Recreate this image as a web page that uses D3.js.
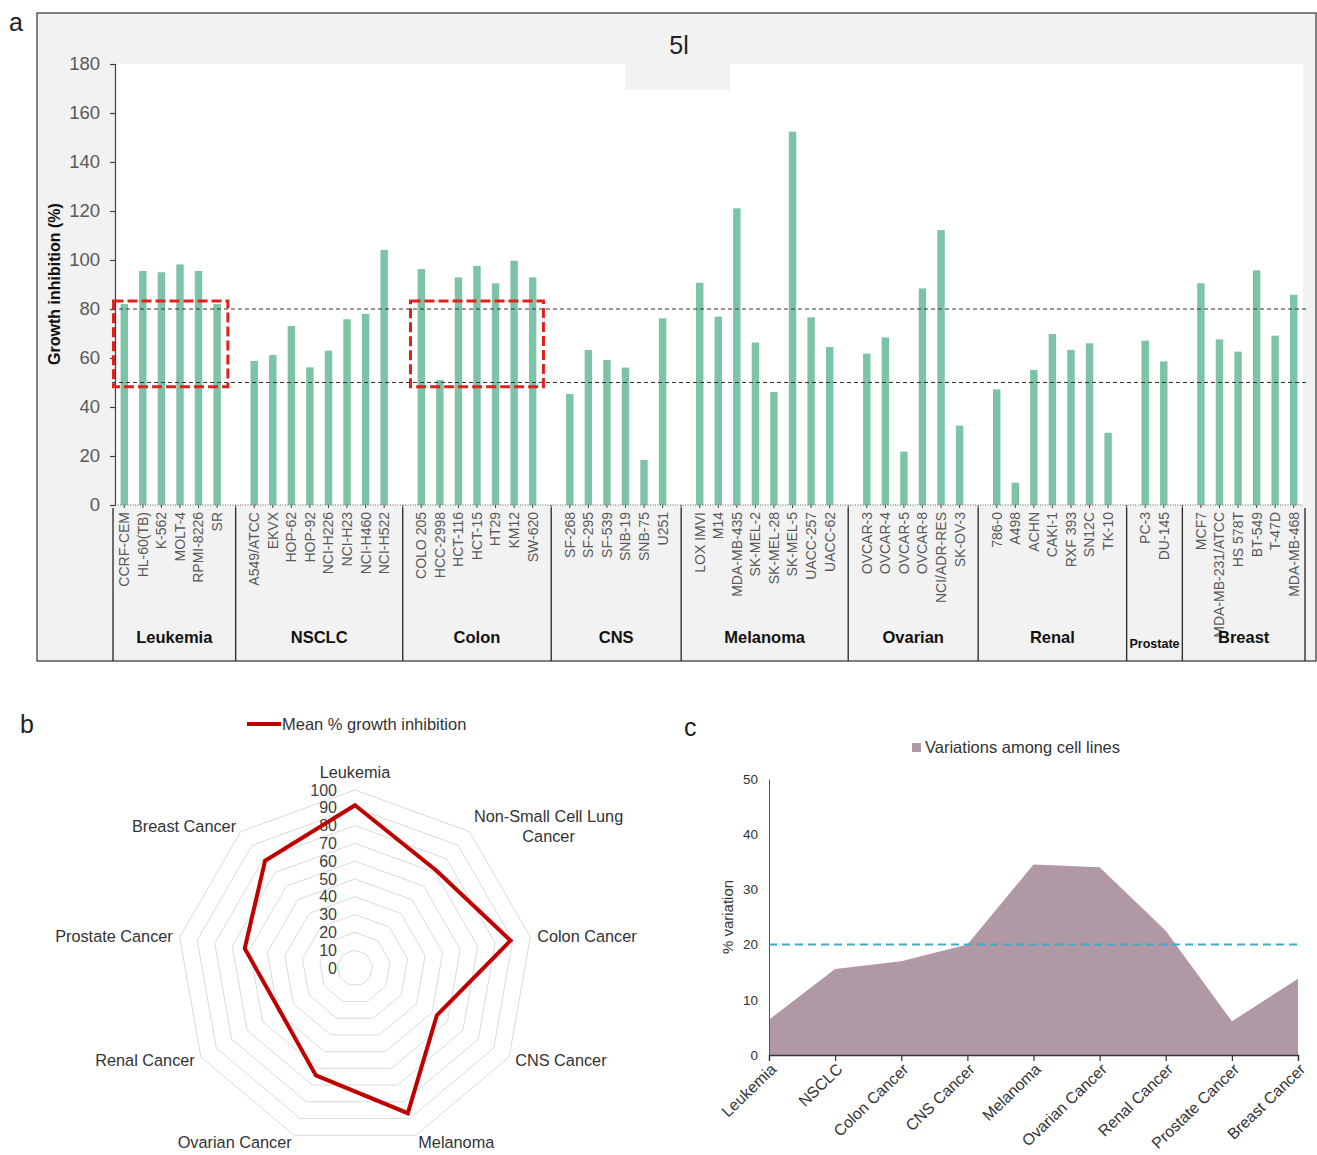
<!DOCTYPE html>
<html><head><meta charset="utf-8">
<script src="https://cdn.jsdelivr.net/npm/d3@7"></script>
<style>
body{margin:0;background:#fff;}
svg{display:block;font-family:"Liberation Sans",Arial,sans-serif;}
</style>
</head><body>
<svg id="chart" width="1317" height="1155"></svg>
<script>
// ---------------- DATA ----------------
const groupNames = ["Leukemia","NSCLC","Colon","CNS","Melanoma","Ovarian","Renal","Prostate","Breast"];
const groupSizes = [6,8,7,6,8,6,7,2,6];
const cellLines = ["CCRF-CEM","HL-60(TB)","K-562","MOLT-4","RPMI-8226","SR",
  "A549/ATCC","EKVX","HOP-62","HOP-92","NCI-H226","NCI-H23","NCI-H460","NCI-H522",
  "COLO 205","HCC-2998","HCT-116","HCT-15","HT29","KM12","SW-620",
  "SF-268","SF-295","SF-539","SNB-19","SNB-75","U251",
  "LOX IMVI","M14","MDA-MB-435","SK-MEL-2","SK-MEL-28","SK-MEL-5","UACC-257","UACC-62",
  "OVCAR-3","OVCAR-4","OVCAR-5","OVCAR-8","NCI/ADR-RES","SK-OV-3",
  "786-0","A498","ACHN","CAKI-1","RXF 393","SN12C","TK-10",
  "PC-3","DU-145",
  "MCF7","MDA-MB-231/ATCC","HS 578T","BT-549","T-47D","MDA-MB-468"];
const inhibition = [82,95.5,95,98.2,95.5,82,
  58.8,61.2,73.1,56.2,63,75.8,78,104.1,
  96.3,51,92.9,97.6,90.5,99.7,92.9,
  45.3,63.3,59.2,56.1,18.4,76.2,
  90.7,76.9,121.1,66.3,46.1,152.4,76.6,64.5,
  61.8,68.4,21.8,88.4,112.2,32.4,
  47.2,9.1,55.1,69.8,63.3,66,29.5,
  67.1,58.6,
  90.5,67.6,62.6,95.8,69.1,85.8];
const yTicksA = [0,20,40,60,80,100,120,140,160,180];
const refLines = [80,50];
const highlightGroups = ["Leukemia","Colon"];
const highlightRange = [48.3,83.3];
const chartTitle = "5l";

const radarCategories = ["Leukemia","Non-Small Cell Lung\nCancer","Colon Cancer","CNS Cancer","Melanoma","Ovarian Cancer","Renal Cancer","Prostate Cancer","Breast Cancer"];
const radarValues = [91.4,71.3,88.7,53.1,86.8,64.2,48.6,62.9,78.6];
const radarTicks = [0,10,20,30,40,50,60,70,80,90,100];
const radarLegend = "Mean % growth inhibition";

const varCategories = ["Leukemia","NSCLC","Colon Cancer","CNS Cancer","Melanoma","Ovarian Cancer","Renal Cancer","Prostate Cancer","Breast Cancer"];
const varValues = [6.4,15.6,17.0,20.0,34.5,34.0,22.5,6.1,13.8];
const varTicks = [0,10,20,30,40,50];
const varThreshold = 20;
const varLegend = "Variations among cell lines";

// ---------------- PANEL A ----------------
const svg = d3.select("#chart");
const TXT = "#595959";

svg.append("text").attr("x",9).attr("y",31).attr("font-size",25).attr("fill","#222").text("a");
svg.append("rect").attr("x",37).attr("y",13).attr("width",1279).attr("height",648)
  .attr("fill","#f2f2f2").attr("stroke","#404040").attr("stroke-width",1.3);

const plotL = 115, plotR = 1303, plotT = 64, plotB = 505;
svg.append("rect").attr("x",plotL).attr("y",plotT).attr("width",plotR-plotL).attr("height",plotB-plotT).attr("fill","#fff");
svg.append("rect").attr("x",625).attr("y",plotT).attr("width",105).attr("height",26).attr("fill","#f2f2f2");
svg.append("text").attr("x",679).attr("y",54).attr("text-anchor","middle").attr("font-size",25).attr("fill","#222").text(chartTitle);

// build slots with blank separators
const slots = [];
const groupInfo = [];
let k = 0;
groupNames.forEach((g,gi)=>{
  const first = slots.length;
  for(let i=0;i<groupSizes[gi];i++){ slots.push({id:"c"+k, name:cellLines[k], value:inhibition[k], group:g}); k++; }
  const last = slots.length-1;
  let blank = null;
  if(gi < groupNames.length-1){ blank = "b"+gi; slots.push({id:blank, blank:true}); }
  groupInfo.push({name:g, first:slots[first].id, last:slots[last].id, blank});
});

const x = d3.scaleBand().domain(slots.map(d=>d.id)).range([plotL,plotR]).paddingInner(0.6).paddingOuter(0.3);
const step = x.step(), bw = x.bandwidth();
const y = d3.scaleLinear().domain([0,180]).range([plotB,plotT]);
const cx = id => x(id)+bw/2;

// y axis
const yAx = svg.append("g").attr("transform",`translate(${plotL},0)`)
  .call(d3.axisLeft(y).tickValues(yTicksA).tickSize(5).tickPadding(10));
yAx.select(".domain").attr("stroke","#404040").attr("stroke-width",1.2);
yAx.selectAll(".tick line").attr("stroke","#404040").attr("stroke-width",1.2);
yAx.selectAll(".tick text").attr("font-size",18.5).attr("fill",TXT).attr("font-family","Liberation Sans, Arial, sans-serif");

svg.append("text").attr("transform",`translate(60,${284}) rotate(-90)`).attr("text-anchor","middle")
  .attr("font-size",16).attr("font-weight","bold").attr("fill","#111").text("Growth inhibition (%)");

// bars
const cells = slots.filter(d=>!d.blank);
svg.append("g").selectAll("rect").data(cells).join("rect")
  .attr("x",d=>x(d.id)).attr("width",bw)
  .attr("y",d=>y(d.value)).attr("height",d=>y(0)-y(d.value))
  .attr("fill","#7cc4a5");

// reference dashed lines
refLines.forEach(v=>{
  svg.append("line").attr("x1",plotL-3).attr("x2",plotR+4).attr("y1",y(v)).attr("y2",y(v))
    .attr("stroke","#333").attr("stroke-width",1.1).attr("stroke-dasharray","4,3");
});

// x axis dotted baseline & ticks
svg.append("line").attr("x1",plotL).attr("x2",plotR).attr("y1",plotB).attr("y2",plotB)
  .attr("stroke","#666").attr("stroke-width",1).attr("stroke-dasharray","1,1.5");
svg.append("g").selectAll("line").data(slots).join("line")
  .attr("x1",d=>cx(d.id)).attr("x2",d=>cx(d.id)).attr("y1",plotB).attr("y2",plotB+3)
  .attr("stroke","#444").attr("stroke-width",1);

// cell line labels
svg.append("g").selectAll("text").data(cells).join("text")
  .attr("transform",d=>`translate(${cx(d.id)},${plotB+7}) rotate(-90)`)
  .attr("text-anchor","end").attr("dy","0.35em").attr("font-size",14).attr("fill",TXT)
  .text(d=>d.name);

// group boundaries and labels
const boundaries = [plotL-2];
groupInfo.forEach(g=>{ if(g.blank) boundaries.push(cx(g.blank)); });
boundaries.push(plotR+2);
svg.append("g").selectAll("line").data(boundaries).join("line")
  .attr("x1",d=>d).attr("x2",d=>d).attr("y1",plotB+3).attr("y2",661)
  .attr("stroke","#333").attr("stroke-width",1.4);
groupInfo.forEach((g,i)=>{
  const small = g.name==="Prostate";
  svg.append("text").attr("x",(boundaries[i]+boundaries[i+1])/2).attr("y",small?648:643)
    .attr("text-anchor","middle").attr("font-weight","bold").attr("font-size",small?12.5:16.5)
    .attr("fill","#111").text(g.name);
});

// highlight boxes
highlightGroups.forEach(name=>{
  const g = groupInfo.find(d=>d.name===name);
  const x0 = x(g.first) - (step-bw)/2 - 1.5;
  const x1 = x(g.last) + bw + (step-bw)/2 + 1.5;
  svg.append("rect").attr("x",x0).attr("y",y(highlightRange[1])).attr("width",x1-x0)
    .attr("height",y(highlightRange[0])-y(highlightRange[1]))
    .attr("fill","none").attr("stroke","#e3211c").attr("stroke-width",3).attr("stroke-dasharray","10,4");
});

// ---------------- PANEL B (radar) ----------------
svg.append("text").attr("x",20).attr("y",733).attr("font-size",25).attr("fill","#222").text("b");
svg.append("line").attr("x1",247).attr("x2",281).attr("y1",724).attr("y2",724).attr("stroke","#c00000").attr("stroke-width",4);
svg.append("text").attr("x",282).attr("y",730).attr("font-size",16.5).attr("fill","#333").text(radarLegend);

const rcx = 355, rcy = 968;
const r = d3.scaleLinear().domain([0,100]).range([0,178]);
const nAx = radarCategories.length;
const ang = i => i*2*Math.PI/nAx;
const pt = (i,v) => [rcx + r(v)*Math.sin(ang(i)), rcy - r(v)*Math.cos(ang(i))];

radarTicks.filter(t=>t>0).forEach(t=>{
  svg.append("path").attr("d", d3.line()(d3.range(nAx).map(i=>pt(i,t))) + "Z")
    .attr("fill","none").attr("stroke","#dadada").attr("stroke-width",1);
});
radarTicks.forEach(t=>{
  svg.append("text").attr("x",rcx-18).attr("y",rcy - r(t)).attr("dy","0.35em")
    .attr("text-anchor","end").attr("font-size",16).attr("fill","#404040").text(t);
});
svg.append("path").attr("d", d3.line()(radarValues.map((v,i)=>pt(i,v))) + "Z")
  .attr("fill","none").attr("stroke","#c00000").attr("stroke-width",4).attr("stroke-linejoin","miter");

radarCategories.forEach((c,i)=>{
  const a = ang(i), s = Math.sin(a);
  const [lx,ly] = [rcx + 185*Math.sin(a), rcy - 185*Math.cos(a)];
  const anchor = s>0.1 ? "start" : (s<-0.1 ? "end" : "middle");
  const lines = c.split("\n");
  const t = svg.append("text").attr("font-size",16.3).attr("fill","#333");
  if(i===0){
    t.attr("x",lx).attr("y",ly-5).attr("text-anchor","middle").text(c);
  } else if(lines.length===1){
    t.attr("x",lx).attr("y",ly).attr("dy","0.35em").attr("text-anchor",anchor).text(c);
  } else {
    t.attr("x",lx).attr("y",ly-10).attr("dy","0.35em").attr("text-anchor",anchor).text(lines[0]);
    const w = t.node().getComputedTextLength();
    svg.append("text").attr("font-size",16.3).attr("fill","#333")
      .attr("x",lx+w/2).attr("y",ly+10).attr("dy","0.35em").attr("text-anchor","middle").text(lines[1]);
  }
});

// ---------------- PANEL C (area) ----------------
svg.append("text").attr("x",684).attr("y",736).attr("font-size",25).attr("fill","#222").text("c");
const cL = 769, cR = 1298, cT = 779, cB = 1055;
const xc = d3.scalePoint().domain(varCategories).range([cL,cR]);
const yc = d3.scaleLinear().domain([0,50]).range([cB,cT]);

svg.append("rect").attr("x",912).attr("y",743).attr("width",9).attr("height",9).attr("fill","#b098a5");
svg.append("text").attr("x",925).attr("y",753).attr("font-size",16.5).attr("fill","#333").text(varLegend);

svg.append("path").datum(varValues)
  .attr("d", d3.area().x((d,i)=>xc(varCategories[i])).y0(yc(0)).y1(d=>yc(d)))
  .attr("fill","#b098a5");

const ycAx = svg.append("g").attr("transform",`translate(${cL},0)`)
  .call(d3.axisLeft(yc).tickValues(varTicks).tickSize(0).tickPadding(11));
ycAx.select(".domain").attr("stroke","#555").attr("stroke-width",1);
ycAx.selectAll(".tick text").attr("font-size",13.5).attr("fill","#333").attr("font-family","Liberation Sans, Arial, sans-serif");

const xcAx = svg.append("g").attr("transform",`translate(0,${cB})`)
  .call(d3.axisBottom(xc).tickSize(6).tickFormat(""));
xcAx.select(".domain").attr("stroke","#333").attr("stroke-width",1.3);
xcAx.selectAll(".tick line").attr("stroke","#333").attr("stroke-width",1.2);
svg.append("g").selectAll("text").data(varCategories).join("text")
  .attr("transform",d=>`translate(${xc(d)+5},${cB+12}) rotate(-44)`)
  .attr("text-anchor","end").attr("dy","0.3em").attr("font-size",15.8).attr("fill","#333").text(d=>d);

svg.append("text").attr("transform",`translate(733,${917}) rotate(-90)`).attr("text-anchor","middle")
  .attr("font-size",15).attr("fill","#333").text("% variation");

svg.append("line").attr("x1",cL).attr("x2",cR+2).attr("y1",yc(varThreshold)).attr("y2",yc(varThreshold))
  .attr("stroke","#3fa9c9").attr("stroke-width",2).attr("stroke-dasharray","8,5");
</script>
</body></html>
